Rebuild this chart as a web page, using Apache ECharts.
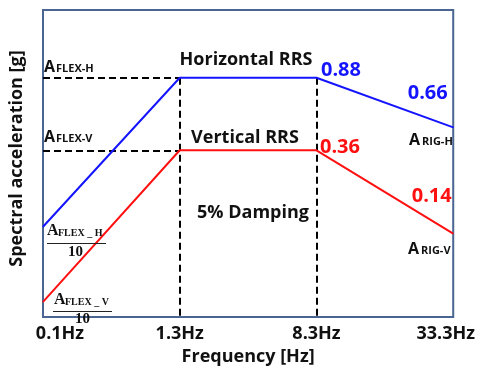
<!DOCTYPE html>
<html>
<head>
<meta charset="utf-8">
<title>Required Response Spectrum</title>
<script src="https://cdn.jsdelivr.net/npm/echarts@6/dist/echarts.min.js"></script>
<style>
  html, body { margin: 0; padding: 0; background: #fff; }
  #chart { width: 478px; height: 371px; }
</style>
</head>
<body>
<div id="chart"></div>
<script>
// Frequency break points of the response spectrum
const freqLabels = ['0.1Hz', '1.3Hz', '8.3Hz', '33.3Hz'];

// Spectral acceleration [g] of the horizontal and vertical RRS
const horizontalRRS = [0.22, 0.88, 0.88, 0.66];
const verticalRRS = [-0.04, 0.36, 0.36, 0.14];

// Points whose value is printed next to the curve
const horizontalLabelled = [2, 3];
const verticalLabelled = [2, 3];

// Each curve is sketched on its own (hidden) acceleration scale
const horizontalRange = [-0.18, 1.18];
const verticalRange = [-0.08, 0.73];

const FONT = '"Open Sans", "Noto Sans", sans-serif';
const SERIF = '"Liberation Serif", "DejaVu Serif", serif';
const BLUE = '#1414ff';
const RED = '#ff1010';
const INK = '#111';

const chart = echarts.init(document.getElementById('chart'), null, { renderer: 'canvas' });

function valueLabel(color, position, distance, offset) {
  return {
    show: true,
    position: position,
    distance: distance,
    offset: offset,
    formatter: p => p.value.toFixed(2),
    color: color,
    fontFamily: FONT,
    fontWeight: 'bold',
    fontSize: 20
  };
}

const horizontalLabelStyle = {
  2: valueLabel(BLUE, 'right', 4, [0, -7]),
  3: valueLabel(BLUE, 'left', 5, [0, -34])
};
const verticalLabelStyle = {
  2: valueLabel(RED, 'right', 3, [0, -3]),
  3: valueLabel(RED, 'left', 1, [0, -37])
};

function buildData(values, labelled, styles) {
  return values.map((v, i) =>
    labelled.includes(i) ? { value: v, label: styles[i] } : { value: v }
  );
}

const dashed = { color: '#000', width: 2, type: [7, 4] };

// Subscripted annotation: "A" followed by a small subscript
function subText(x, y, sub, bigSize, subSize, subDx, subDy, family) {
  return [
    { type: 'text', left: x, top: y, z: 20,
      style: { text: 'A', font: 'bold ' + bigSize + 'px ' + family, fill: INK } },
    { type: 'text', left: x + subDx, top: y + subDy, z: 20,
      style: { text: sub, font: 'bold ' + subSize + 'px ' + family, fill: INK } }
  ];
}

function fraction(x, y, sub, lineX1, lineX2, lineY, denX, denY) {
  return subText(x, y, sub, 16, 10, 11, 5, SERIF).concat([
    { type: 'line', z: 20,
      shape: { x1: lineX1, y1: lineY, x2: lineX2, y2: lineY },
      style: { stroke: '#222', lineWidth: 1 } },
    { type: 'text', left: denX, top: denY, z: 20,
      style: { text: '10', font: 'bold 15px ' + SERIF, fill: INK } }
  ]);
}

function centerText(text, cx, cy) {
  return {
    type: 'text', x: cx, y: cy, z: 20,
    style: { text: text, font: 'bold 18px ' + FONT, fill: INK, align: 'center', verticalAlign: 'middle' }
  };
}

const annotations = [
  centerText('Horizontal RRS', 246, 60),
  centerText('Vertical RRS', 245, 138),
  centerText('5% Damping', 253, 213)
]
  .concat(subText(44, 59, 'FLEX-H', 16, 11, 12, 4, FONT))
  .concat(subText(44, 129, 'FLEX-V', 16, 11, 12, 4, FONT))
  .concat(subText(409, 132, 'RIG-H', 16, 11, 13, 4, FONT))
  .concat(subText(408, 241, 'RIG-V', 16, 11, 13, 4, FONT))
  .concat(fraction(47, 223, 'FLEX _ H', 47, 106, 243.5, 68, 245))
  .concat(fraction(54, 292, 'FLEX _ V', 53, 112, 311.5, 75, 312));

const lastIdx = freqLabels.length - 1;
const tickFont = { fontFamily: FONT, fontWeight: 'bold', fontSize: 18, color: INK };

const option = {
  animation: false,
  backgroundColor: '#fff',
  grid: {
    left: 40, right: 24, top: 10, bottom: 47,
    show: true,
    borderColor: '#4a6591',
    borderWidth: 2,
    backgroundColor: '#fff'
  },
  xAxis: {
    type: 'category',
    data: freqLabels,
    boundaryGap: false,
    axisLine: { show: false },
    axisTick: { show: false },
    splitLine: { show: false },
    axisLabel: {
      margin: 8,
      formatter: (v, i) => i === 0 ? '{first|' + v + '}' : (i === lastIdx ? '{last|' + v + '}' : '{mid|' + v + '}'),
      rich: {
        first: Object.assign({ padding: [0, 0, 0, 34] }, tickFont),
        mid: Object.assign({}, tickFont),
        last: Object.assign({ padding: [0, 15, 0, 0] }, tickFont)
      }
    },
    name: 'Frequency [Hz]',
    nameLocation: 'middle',
    nameGap: 29,
    nameTextStyle: { fontFamily: FONT, fontWeight: 'bold', fontSize: 18, color: INK }
  },
  yAxis: [
    {
      type: 'value',
      min: horizontalRange[0], max: horizontalRange[1],
      axisLine: { show: false },
      axisTick: { show: false },
      axisLabel: { show: false },
      splitLine: { show: false },
      name: 'Spectral acceleration [g]',
      nameLocation: 'middle',
      nameRotate: 90,
      nameGap: 17,
      nameTextStyle: { fontFamily: FONT, fontWeight: 'bold', fontSize: 18, color: INK, padding: [0, 0, 0, 10] }
    },
    {
      type: 'value',
      show: false,
      min: verticalRange[0], max: verticalRange[1]
    }
  ],
  graphic: annotations,
  series: [
    {
      name: 'Horizontal RRS',
      type: 'line',
      yAxisIndex: 0,
      data: buildData(horizontalRRS, horizontalLabelled, horizontalLabelStyle),
      symbol: 'circle',
      symbolSize: 1,
      itemStyle: { color: BLUE },
      lineStyle: { color: BLUE, width: 2 },
      z: 5,
      markLine: {
        silent: true,
        symbol: 'none',
        label: { show: false },
        lineStyle: dashed,
        data: [
          [{ coord: [freqLabels[0], horizontalRRS[1]] }, { coord: [freqLabels[1], horizontalRRS[1]] }],
          [{ coord: [freqLabels[1], horizontalRRS[1]] }, { coord: [freqLabels[1], horizontalRange[0]] }],
          [{ coord: [freqLabels[2], horizontalRRS[2]] }, { coord: [freqLabels[2], horizontalRange[0]] }]
        ]
      }
    },
    {
      name: 'Vertical RRS',
      type: 'line',
      yAxisIndex: 1,
      data: buildData(verticalRRS, verticalLabelled, verticalLabelStyle),
      symbol: 'circle',
      symbolSize: 1,
      itemStyle: { color: RED },
      lineStyle: { color: RED, width: 2 },
      z: 5,
      markLine: {
        silent: true,
        symbol: 'none',
        label: { show: false },
        lineStyle: dashed,
        data: [
          [{ coord: [freqLabels[0], verticalRRS[1]] }, { coord: [freqLabels[1], verticalRRS[1]] }]
        ]
      }
    }
  ]
};

chart.setOption(option);
</script>
</body>
</html>
